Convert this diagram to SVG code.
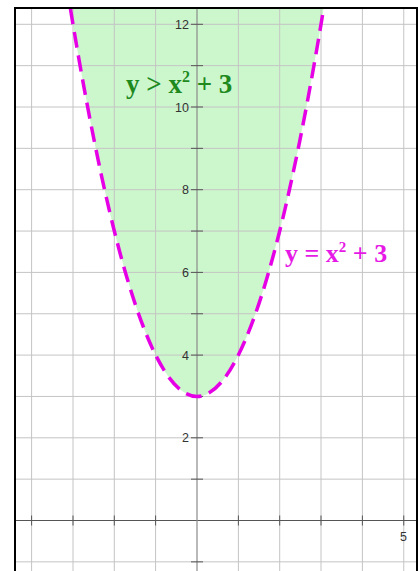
<svg xmlns="http://www.w3.org/2000/svg" width="418" height="571" viewBox="0 0 418 571">
<style>
.grid{stroke:#c4c4c4;stroke-width:1;fill:none}
.axis{stroke:#555;stroke-width:1.2;fill:none}
.yaxis{stroke:#8a8a8a;stroke-width:1.2;fill:none}
.tick{stroke:#555;stroke-width:1}
.num{font-family:"Liberation Sans",Arial,sans-serif;font-size:12.5px;fill:#333}
.lbl{font-family:"Liberation Serif","Times New Roman",serif;font-weight:bold}
</style>
<rect x="0" y="0" width="418" height="571" fill="#fff"/>
<g id="region">
<path d="M70.3,8 Q197,784.9 323.7,8 Z" fill="#ccf7cc"/>
</g>
<g id="grid">
<path class="grid" d="M31.6,8V571 M73,8V571 M114.3,8V571 M155.6,8V571 M238.4,8V571 M279.7,8V571 M321,8V571 M362.4,8V571 M403.75,8V571"/>
<path class="grid" d="M15,561.85H417 M15,479.15H417 M15,437.8H417 M15,396.45H417 M15,355.1H417 M15,313.75H417 M15,272.4H417 M15,231.05H417 M15,189.7H417 M15,148.35H417 M15,107H417 M15,65.65H417 M15,24.3H417"/>
</g>
<g id="axes">
<path class="axis" d="M15,520.5H417"/>
<path class="yaxis" d="M197,8V571"/>
<path class="tick" d="M31.6,515.5v10 M73,515.5v10 M114.3,515.5v10 M155.6,515.5v10 M238.4,515.5v10 M279.7,515.5v10 M321,515.5v10 M362.4,515.5v10 M403.75,515.5v10"/>
<path class="tick" d="M191,561.85h12 M191,479.15h12 M191,437.8h12 M191,396.45h12 M191,355.1h12 M191,313.75h12 M191,272.4h12 M191,231.05h12 M191,189.7h12 M191,148.35h12 M191,107h12 M191,65.65h12 M191,24.3h12"/>
<g class="num" text-anchor="end">
<text x="189" y="28.8">12</text>
<text x="189" y="111.5">10</text>
<text x="189" y="194.2">8</text>
<text x="189" y="276.9">6</text>
<text x="189" y="359.6">4</text>
<text x="189" y="442.3">2</text>
</g>
<text class="num" x="403.5" y="541" text-anchor="middle">5</text>
</g>
<g id="curve">
<path d="M70.3,8 Q197,784.9 323.7,8" fill="none" stroke="#e600e6" stroke-width="3.5" stroke-dasharray="16 8"/>
</g>
<g id="labels">
<text class="lbl" x="126" y="93" font-size="27" fill="#1e8a1e">y &gt; x<tspan font-size="16" dy="-11">2</tspan><tspan dy="11"> + 3</tspan></text>
<text class="lbl" x="285" y="262" font-size="26" fill="#e619e6">y = x<tspan font-size="15" dy="-10">2</tspan><tspan dy="10"> + 3</tspan></text>
</g>
<rect x="15" y="8" width="402" height="590" fill="none" stroke="#000" stroke-width="2"/>
</svg>
